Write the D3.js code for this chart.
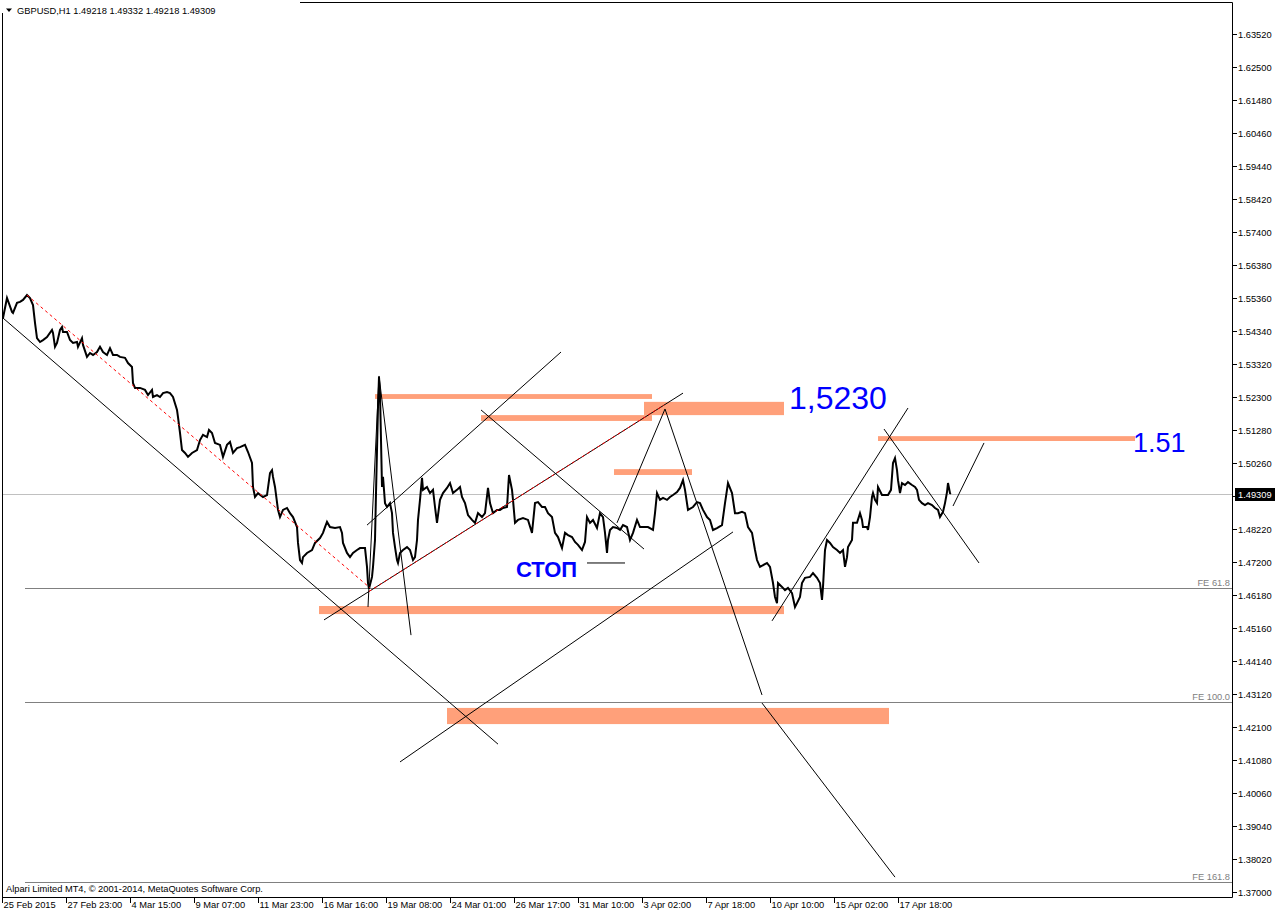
<!DOCTYPE html>
<html><head><meta charset="utf-8">
<script src="https://cdn.jsdelivr.net/npm/d3@7"></script>
<style>
html,body{margin:0;padding:0;background:#fff;}
svg{display:block;}
.mt{font-family:"Liberation Sans",Arial,sans-serif;}
.big{font-family:"Liberation Sans",Arial,sans-serif;}
</style></head><body>
<svg id="c" width="1276" height="914"></svg>
<script>
// ---------- data ----------
const symbolTitle = "GBPUSD,H1  1.49218 1.49332 1.49218 1.49309";
const copyright = "Alpari Limited MT4, \u00A9 2001-2014, MetaQuotes Software Corp.";
const lastPrice = 1.49309;

// hourly bar index (0 = first bar) and close prices
const bars = [1,5,10,11,15,18,21,25,28,31,33,35,38,41,45,50,51,53,55,58,60,61,65,68,71,75,76,80,81,85,88,91,95,98,101,105,108,111,115,118,123,126,130,131,133,138,143,146,150,151,155,158,161,165,168,171,175,176,178,180,183,186,190,195,198,201,205,207,210,213,218,221,225,228,231,235,238,243,246,250,251,253,256,261,265,268,270,271,273,276,278,281,285,288,291,295,296,298,300,301,305,310,313,318,321,323,325,328,333,338,340,341,345,348,351,355,358,363,365,366,367,370,371,373,374,376,377,378,380,381,383,385,388,390,391,393,395,396,398,401,405,408,411,413,415,416,418,420,421,425,428,431,433,435,438,441,445,448,451,455,458,460,463,466,470,473,476,480,483,486,488,491,495,498,501,505,507,510,511,513,516,521,526,530,533,536,540,543,546,550,553,556,560,563,566,570,573,576,580,583,585,588,591,595,598,601,603,605,606,608,611,615,618,621,625,628,631,635,638,641,646,651,653,655,658,661,665,668,671,675,678,681,683,686,691,695,698,701,705,708,711,715,720,723,726,730,733,736,740,743,746,750,753,755,758,765,768,771,773,775,776,780,783,786,790,793,795,798,800,803,808,811,815,818,820,821,823,825,828,831,835,838,841,843,845,846,850,851,855,858,860,861,865,866,868,870,871,873,875,876,880,883,886,889,891,893,895,896,898,900,903,906,910,913,915,917,920,923,926,930,933,936,938,941,943,945,946,948,949];
const closes = [1.5474,1.5536,1.5493,1.5490,1.5521,1.5524,1.5530,1.5545,1.5536,1.5514,1.5459,1.5412,1.5400,1.5406,1.5415,1.5437,1.5428,1.5385,1.5397,1.5437,1.5446,1.5431,1.5431,1.5406,1.5397,1.5400,1.5385,1.5412,1.5391,1.5354,1.5366,1.5360,1.5369,1.5385,1.5369,1.5360,1.5381,1.5360,1.5360,1.5354,1.5351,1.5335,1.5323,1.5273,1.5258,1.5258,1.5252,1.5236,1.5252,1.5230,1.5236,1.5230,1.5242,1.5245,1.5242,1.5230,1.5190,1.5168,1.5119,1.5066,1.5057,1.5045,1.5057,1.5066,1.5097,1.5113,1.5106,1.5128,1.5119,1.5088,1.5082,1.5045,1.5082,1.5091,1.5057,1.5072,1.5075,1.5082,1.5060,1.5026,1.4952,1.4921,1.4933,1.4921,1.4927,1.4995,1.5004,1.4983,1.4952,1.4881,1.4859,1.4881,1.4887,1.4871,1.4859,1.4828,1.4779,1.4726,1.4717,1.4735,1.4748,1.4757,1.4779,1.4794,1.4810,1.4828,1.4844,1.4828,1.4825,1.4828,1.4810,1.4779,1.4748,1.4735,1.4748,1.4757,1.4763,1.4763,1.4705,1.4655,1.4637,1.4674,1.4705,1.4788,1.4933,1.5199,1.5292,1.5242,1.4952,1.4983,1.4902,1.4890,1.4902,1.4871,1.4810,1.4766,1.4726,1.4717,1.4748,1.4757,1.4766,1.4757,1.4726,1.4735,1.4788,1.4850,1.4912,1.4980,1.4943,1.4952,1.4933,1.4943,1.4890,1.4841,1.4912,1.4933,1.4949,1.4964,1.4933,1.4943,1.4952,1.4921,1.4902,1.4865,1.4850,1.4841,1.4871,1.4859,1.4871,1.4949,1.4902,1.4871,1.4881,1.4881,1.4887,1.4890,1.4989,1.4943,1.4912,1.4841,1.4850,1.4856,1.4850,1.4810,1.4902,1.4905,1.4890,1.4890,1.4871,1.4859,1.4810,1.4797,1.4763,1.4810,1.4803,1.4797,1.4782,1.4773,1.4757,1.4782,1.4859,1.4841,1.4850,1.4825,1.4871,1.4859,1.4810,1.4748,1.4788,1.4819,1.4828,1.4825,1.4819,1.4834,1.4828,1.4788,1.4810,1.4850,1.4828,1.4828,1.4828,1.4819,1.4871,1.4933,1.4912,1.4918,1.4912,1.4921,1.4927,1.4936,1.4949,1.4973,1.4943,1.4881,1.4890,1.4905,1.4902,1.4881,1.4859,1.4850,1.4819,1.4825,1.4834,1.4902,1.4964,1.4933,1.4871,1.4871,1.4875,1.4871,1.4828,1.4810,1.4757,1.4726,1.4705,1.4717,1.4705,1.4655,1.4612,1.4593,1.4655,1.4643,1.4633,1.4640,1.4624,1.4581,1.4593,1.4612,1.4655,1.4671,1.4674,1.4686,1.4671,1.4655,1.4603,1.4643,1.4757,1.4788,1.4779,1.4766,1.4757,1.4748,1.4757,1.4705,1.4735,1.4766,1.4788,1.4841,1.4841,1.4871,1.4850,1.4828,1.4828,1.4819,1.4859,1.4921,1.4933,1.4912,1.4902,1.4952,1.4927,1.4927,1.4927,1.4943,1.5026,1.5041,1.5004,1.4973,1.4933,1.4964,1.4958,1.4967,1.4958,1.4952,1.4943,1.4912,1.4902,1.4896,1.4902,1.4896,1.4887,1.4881,1.4859,1.4875,1.4902,1.4936,1.4964,1.4933,1.4931];

const yTickValues = [1.37000,1.38020,1.39040,1.40060,1.41080,1.42100,1.43120,1.44140,1.45160,1.46180,1.47200,1.48220,1.49240,1.50260,1.51280,1.52300,1.53320,1.54340,1.55360,1.56380,1.57400,1.58420,1.59440,1.60460,1.61480,1.62500,1.63520];
const xTickBars = [0,64,128,192,256,320,384,448,512,576,640,704,768,832,896];
const xTickLabels = ["25 Feb 2015","27 Feb 23:00","4 Mar 15:00","9 Mar 07:00","11 Mar 23:00","16 Mar 16:00","19 Mar 08:00","24 Mar 01:00","26 Mar 17:00","31 Mar 10:00","3 Apr 02:00","7 Apr 18:00","10 Apr 10:00","15 Apr 02:00","17 Apr 18:00"];

// Fibonacci expansion levels
const feLevels = [1.46381, 1.42888, 1.37294];
const feLabels = ["FE 61.8", "FE 100.0", "FE 161.8"];
const feStartBar = 23;

// trend lines: [bar1, price1, bar2, price2]
const trendLines = [
  [1,1.5474,496,1.4157],
  [322,1.4541,681,1.5242],
  [365,1.4834,559,1.5369],
  [366,1.4581,377,1.5295],
  [377,1.5295,409,1.4494],
  [479,1.5190,642,1.4760],
  [615,1.4841,663,1.5193],
  [663,1.5193,760,1.4309],
  [760,1.4284,893,1.3746],
  [398,1.4102,731,1.4813],
  [770,1.4538,906,1.5196],
  [882,1.5131,977,1.4717],
  [951,1.4893,982,1.5088],
  [585,1.4717,623,1.4717]
];
// red dotted lines
const dashedLines = [
  [25,1.5545,368,1.4640],
  [367,1.4629,662,1.5205]
];
// salmon zones: [bar1, bar2, priceTop, priceBottom]
const zones = [
  [373,650,1.5239,1.5224],
  [479,650,1.5174,1.5156],
  [642,782,1.5215,1.5174],
  [612,690,1.5007,1.4989],
  [317,782,1.4584,1.4559],
  [445,887,1.4269,1.4219],
  [876,1133,1.5109,1.5094]
];
// text notes: [bar, price, text, size, weight]
const notes = [
  [787,1.5193,"1,5230",32,"normal"],
  [1131,1.5060,"1.51",27,"normal"],
  [514,1.4674,"\u0421\u0422\u041E\u041F",22,"bold"]
];

// ---------- drawing ----------
const FS = 9.3;
const svg = d3.select("#c");
const L = 2, R = 1232, T = 2, B = 897;
const x = d3.scaleLinear().domain([0, 1230]).range([L, R]);
const y = d3.scaleLinear().domain([1.37, 1.6352]).range([892, 34]);

svg.append("rect").attr("width",1276).attr("height",914).attr("fill","#fff");

const g = svg.append("g");
svg.append("clipPath").attr("id","pc").append("rect")
  .attr("x",L).attr("y",T).attr("width",R-L).attr("height",B-T);
const plot = g.append("g").attr("clip-path","url(#pc)");

// current price line
plot.append("line").attr("x1",L).attr("x2",R)
  .attr("y1",Math.round(y(lastPrice))+0.5).attr("y2",Math.round(y(lastPrice))+0.5)
  .attr("stroke","#c0c0c0").attr("stroke-width",1);

// FE levels
feLevels.forEach((v,i)=>{
  const yy = Math.round(y(v))+0.5;
  plot.append("line").attr("x1",x(feStartBar)).attr("x2",R).attr("y1",yy).attr("y2",yy)
    .attr("stroke","#808080").attr("stroke-width",1);
  plot.append("text").attr("class","mt").attr("x",R-2).attr("y",yy-2.5)
    .attr("text-anchor","end").attr("font-size",FS).attr("fill","#808080").text(feLabels[i]);
});

// zones
plot.selectAll("rect.zone").data(zones).enter().append("rect").attr("class","zone")
  .attr("x",d=>x(d[0])).attr("width",d=>x(d[1])-x(d[0]))
  .attr("y",d=>y(d[2])).attr("height",d=>y(d[3])-y(d[2]))
  .attr("fill","#ffa07a");

// trend lines
plot.selectAll("line.tl").data(trendLines).enter().append("line").attr("class","tl")
  .attr("x1",d=>x(d[0])).attr("y1",d=>y(d[1])).attr("x2",d=>x(d[2])).attr("y2",d=>y(d[3]))
  .attr("stroke","#000").attr("stroke-width",1);

// price line
const line = d3.line().x((d,i)=>x(bars[i])).y(d=>y(d));
plot.append("path").datum(closes).attr("d",line).attr("fill","none")
  .attr("stroke","#000").attr("stroke-width",2).attr("stroke-linejoin","miter");

// red dotted lines
plot.selectAll("line.dl").data(dashedLines).enter().append("line").attr("class","dl")
  .attr("x1",d=>x(d[0])).attr("y1",d=>y(d[1])).attr("x2",d=>x(d[2])).attr("y2",d=>y(d[3]))
  .attr("stroke","#ff0000").attr("stroke-width",1).attr("stroke-dasharray","3,3");

// notes
notes.forEach(n=>{
  plot.append("text").attr("class","big").attr("x",x(n[0])).attr("y",y(n[1]))
    .attr("font-size",n[3]).attr("font-weight",n[4]).attr("fill","#0000ff").text(n[2]);
});

// header (white background covering frame top)
svg.append("rect").attr("x",0).attr("y",0).attr("width",300).attr("height",13).attr("fill","#fff");
svg.append("path").attr("d","M6,8.5 L12,8.5 L9,12 Z").attr("fill","#000");
svg.append("text").attr("class","mt").attr("x",17).attr("y",14).attr("font-size",FS).attr("fill","#000").text(symbolTitle);

// copyright
svg.append("text").attr("class","mt").attr("x",6).attr("y",891.5).attr("font-size",FS).attr("fill","#000").text(copyright);

// frame
svg.append("path").attr("d",`M${L+0.5},13 L${L+0.5},${B+0.5} L${R+0.5},${B+0.5} L${R+0.5},${T+0.5} L300,${T+0.5}`)
  .attr("fill","none").attr("stroke","#000").attr("stroke-width",1);

// y axis
const yLast = y(lastPrice);
yTickValues.forEach(v=>{
  const yy = Math.round(y(v))+0.5;
  svg.append("line").attr("x1",R+1).attr("x2",R+5).attr("y1",yy).attr("y2",yy).attr("stroke","#000");
  if (Math.abs(y(v)-yLast) < 9) return;
  svg.append("text").attr("class","mt").attr("x",R+6).attr("y",yy+3.5).attr("font-size",FS)
    .attr("fill","#000").text(d3.format(".5f")(v));
});
// last price label
svg.append("rect").attr("x",R+3).attr("y",Math.round(yLast)-6).attr("width",40).attr("height",13).attr("fill","#000");
svg.append("text").attr("class","mt").attr("x",R+6).attr("y",Math.round(yLast)+4).attr("font-size",FS)
  .attr("fill","#fff").text(d3.format(".5f")(lastPrice));

// x axis
xTickBars.forEach((b,i)=>{
  const xx = Math.round(x(b))+0.5;
  svg.append("line").attr("x1",xx).attr("x2",xx).attr("y1",B).attr("y2",B+6).attr("stroke","#000");
  svg.append("text").attr("class","mt").attr("x",xx+1).attr("y",B+11).attr("font-size",FS)
    .attr("fill","#000").text(xTickLabels[i]);
});
</script>
</body></html>
